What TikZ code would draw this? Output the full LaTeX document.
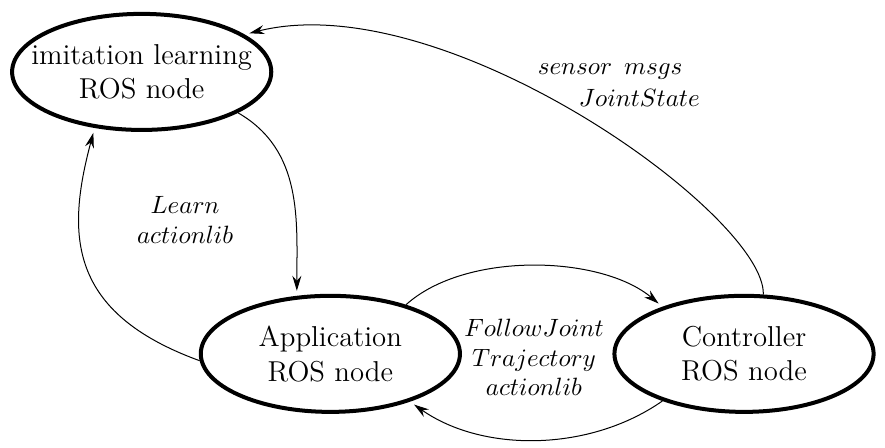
\documentclass[tikz,border=0pt]{standalone}
\usetikzlibrary{shapes.geometric,arrows.meta}
\tikzset{
  rosnode/.style={draw, line width=1.6pt, ellipse, minimum width=3.64cm, minimum height=1.63cm},
  rostext/.style={align=center, font=\fontsize{11.5}{13.8}\selectfont},
  msglbl/.style={align=center, font=\fontsize{9.6}{11.9}\selectfont},
  flow/.style={->, shorten >=2pt},
  >={Stealth[length=6pt,width=3.6pt,inset=2pt]}
}
\begin{document}
\begin{tikzpicture}
  \useasboundingbox (0,0) rectangle (12.43,6.29);

  % ROS nodes
  \node[rosnode, label={[rostext]center:imitation learning\\ROS node}] (imit) at (1.99,5.28) {};
  \node[rosnode, label={[rostext]center:Application\\ROS node}] (app) at (4.64,1.32) {};
  \node[rosnode, label={[rostext]center:Controller\\ROS node}] (ctrl) at (10.45,1.32) {};

  % Message labels
  \node[msglbl] (learnlbl) at (2.60,3.20) {$Learn$\\$actionlib$};
  \node[msglbl] (followlbl) at (7.50,1.27) {$FollowJoint$\\$Trajectory$\\$actionlib$};
  \node[msglbl] (sensorlbl) at (8.57,5.28) {$sensor\ \,msgs$};
  \node[msglbl] (jointlbl) at (8.98,4.92) {$JointState$};

  % Connections
  \draw[flow] (imit.-23) to[out=-30,in=90] (app.120);
  \draw[flow] (app.183) .. controls +(160:1.97) and +(-105:1.55) .. (imit.-130);
  \draw[flow] (app.33) to[out=42,in=140,looseness=0.8] (ctrl.150);
  \draw[flow] (ctrl.-150) to[out=-145,in=-35,looseness=0.9] (app.-31);
  \draw[flow] (ctrl.72) .. controls +(88:1.1) and +(14:2.9) .. (imit.20);
\end{tikzpicture}
\end{document}
